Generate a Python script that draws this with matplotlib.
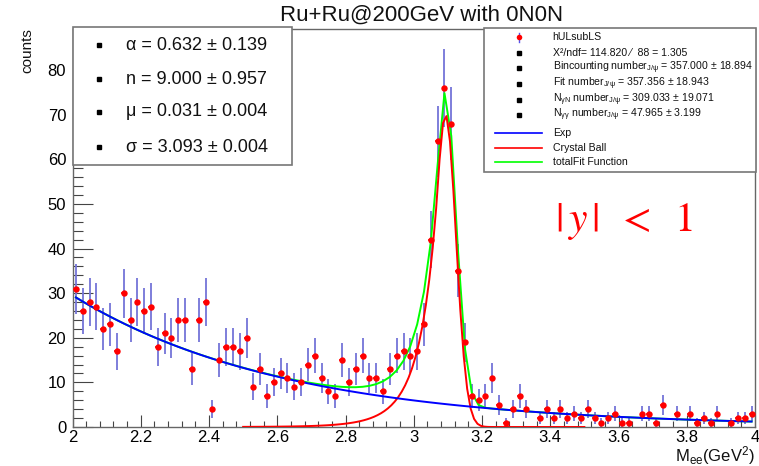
import numpy as np
import matplotlib
matplotlib.use("Agg")
import matplotlib.pyplot as plt
from matplotlib.patches import Rectangle

plt.rcParams["font.family"] = ["Liberation Sans", "DejaVu Sans"]
plt.rcParams["mathtext.fontset"] = "custom"
plt.rcParams["mathtext.rm"] = "Liberation Sans"
plt.rcParams["mathtext.it"] = "Liberation Sans:italic"
plt.rcParams["mathtext.bf"] = "Liberation Sans:bold"
plt.rcParams["mathtext.sf"] = "Liberation Sans"
plt.rcParams["mathtext.default"] = "rm"

# ---- histogram: unlike-sign minus like-sign counts, 100 bins on [2, 4] ----
mass_lo, mass_hi = 2.0, 4.0
counts = [31, 26, 28, 27, 22, 23, 17, 30, 24, 28,
          26, 27, 18, 21, 20, 24, 24, 13, 24, 28,
          4, 15, 18, 18, 17, 20, 9, 13, 7, 10,
          12, 11, 9, 10, 14, 16, 11, 8, 7, 15,
          10, 13, 16, 11, 11, 8, 13, 16, 17, 16,
          17, 23, 42, 64, 76, 68, 35, 19, 7, 6,
          7, 11, 5, 1, 4, 7, 4, 0, 2, 4,
          2, 4, 2, 3, 2, 4, 2, 1, 2, 3,
          1, 1, 0, 3, 3, 1, 5, 0, 3, 0,
          3, 1, 2, 1, 3, 0, 1, 2, 2, 3]

# ---- fit results ----
cb_alpha, cb_n, cb_mean, cb_sigma = 0.632, 9.000, 3.093, 0.031
cb_norm = 70.0
exp_norm, exp_slope = 29.5, 1.6
cb_range = (2.5, 3.5)
fit_range = (2.01, 3.99)

param_labels = ["α = 0.632 ± 0.139", "n = 9.000 ± 0.957",
                "μ = 0.031 ± 0.004", "σ = 3.093 ± 0.004"]
stat_labels = ["X²/ndf= 114.820 ⁄  88 = 1.305",
               r"Bincounting number$_{J/\psi}$ = 357.000 ± 18.894",
               r"Fit number$_{J/\psi}$ = 357.356 ± 18.943",
               r"N$_{\gamma N}$ number$_{J/\psi}$ = 309.033 ± 19.071",
               r"N$_{\gamma\gamma}$ number$_{J/\psi}$ = 47.965 ± 3.199"]
curve_labels = ["Exp", "Crystal Ball", "totalFit Function"]
curve_colors = ["#0000ff", "#ff0000", "#00ff00"]


def crystal_ball(x, norm, alpha, n, mu, sigma):
    t = (x - mu) / sigma
    a = (n / abs(alpha)) ** n * np.exp(-alpha ** 2 / 2)
    b = n / abs(alpha) - abs(alpha)
    with np.errstate(all="ignore"):
        tail = a * np.power(b - t, -n)
    return norm * np.where(t > -alpha, np.exp(-t ** 2 / 2), tail)


def expo(x, norm, slope):
    return norm * np.exp(-slope * (x - mass_lo))


W, H = 759, 466
fig = plt.figure(figsize=(W / 100, H / 100), dpi=100)
ax_l, ax_r, ax_t, ax_b = 72.5, 755, 28.5, 427
ax = fig.add_axes([ax_l / W, (H - ax_b) / H, (ax_r - ax_l) / W, (ax_b - ax_t) / H])

edges = np.linspace(mass_lo, mass_hi, len(counts) + 1)
centers = 0.5 * (edges[:-1] + edges[1:])
y = np.array(counts, dtype=float)
filled = y > 0
xc, yc = centers[filled], y[filled]
half_w = 0.5 * (edges[1] - edges[0])

ax.errorbar(xc, yc, yerr=np.sqrt(yc), fmt="none", ecolor="#7474d8",
            elinewidth=1.3, zorder=2)
ax.hlines(yc, xc - 0.8 * half_w, xc + 0.8 * half_w, color="#ff2020",
          lw=1.3, zorder=5)

x_full = np.linspace(*fit_range, 100)
x_cb = np.linspace(*cb_range, 100)
ax.plot(x_full, expo(x_full, exp_norm, exp_slope) +
        crystal_ball(x_full, cb_norm, cb_alpha, cb_n, cb_mean, cb_sigma),
        color=curve_colors[2], lw=1.4, zorder=3)
ax.plot(x_cb, crystal_ball(x_cb, cb_norm, cb_alpha, cb_n, cb_mean, cb_sigma),
        color=curve_colors[1], lw=1.4, zorder=3.2)
ax.plot(x_full, expo(x_full, exp_norm, exp_slope), color=curve_colors[0],
        lw=1.4, zorder=3.4)
ax.plot(xc, yc, "o", color="#ff0000", ms=4.6, mec="none", zorder=6)

ax.set_xlim(mass_lo, mass_hi)
ax.set_ylim(0, 89.3)
ax.set_xticks(np.arange(2.0, 4.01, 0.2))
ax.set_xticks(np.arange(2.0, 4.01, 0.04), minor=True)
ax.set_yticks(np.arange(0, 81, 10))
ax.set_yticks(np.arange(0, 89, 2), minor=True)
ax.set_xticklabels(["2", "2.2", "2.4", "2.6", "2.8", "3", "3.2", "3.4",
                    "3.6", "3.8", "4"])
ax.tick_params(axis="x", which="major", direction="in", length=8.6,
               width=0.8, color="#444444", labelsize=12, pad=2.5)
ax.tick_params(axis="x", which="minor", direction="in", length=4.3,
               width=0.8, color="#444444")
ax.tick_params(axis="y", which="major", direction="in", length=14.4,
               width=0.8, color="#444444", labelsize=12, pad=4.5)
ax.tick_params(axis="y", which="minor", direction="in", length=7.2,
               width=0.8, color="#444444")
for s in ax.spines.values():
    s.set_color("#666666")
    s.set_linewidth(1.0)

# ---- overlay in pixel coordinates for titles, boxes and labels ----
ov = fig.add_axes([0, 0, 1, 1], zorder=10)
ov.set_xlim(0, W)
ov.set_ylim(H, 0)
ov.axis("off")

ov.text(422, 15, "Ru+Ru@200GeV with 0N0N", ha="center", va="center",
        fontsize=16, color="#111111")
ov.text(27, 28, "counts", rotation=90, ha="center", va="top", fontsize=11,
        color="#111111")
ov.text(755, 456, r"M$_{ee}$(GeV$^{2}$)", ha="right", va="center",
        fontsize=12, color="#111111")
ov.text(624, 222, r"$|\,\mathit{y}\,|\;\;<\;\;1$", ha="center", va="center",
        fontsize=30, color="#ff0000", math_fontfamily="stix")

# parameter box
ov.add_patch(Rectangle((72.5, 27), 292 - 72.5, 165 - 27, fc="white",
                       ec="#777777", lw=1.2))
for row_y, lab in zip([45, 79.3, 112, 147], param_labels):
    ov.plot([99], [row_y], "s", color="black", ms=3.0)
    ov.text(126, row_y, lab, ha="left", va="center", fontsize=13,
            color="#111111")

# legend box
ov.add_patch(Rectangle((484, 27.7), 756 - 484, 171.7 - 27.7, fc="white",
                       ec="#777777", lw=1.2))
tx, mx = 552.7, 519
leg_fs = 7.6
ov.plot([mx, mx], [33.3, 41.7], color="#5555ee", lw=1.0)
ov.plot([mx], [37.3], "o", color="#ff0000", ms=4, mec="none")
ov.text(tx, 37.3, "hULsubLS", ha="left", va="center", fontsize=leg_fs,
        color="#111111")
for row_y, lab in zip([52.7, 68.3, 84.3, 100, 115], stat_labels):
    ov.plot([mx], [row_y], "s", color="black", ms=2.6)
    ov.text(tx, row_y, lab, ha="left", va="center", fontsize=leg_fs,
            color="#111111")
for row_y, lab, col in zip([132.7, 147.7, 162.3], curve_labels, curve_colors):
    ov.plot([495, 541.7], [row_y, row_y], color=col, lw=1.2)
    ov.text(tx, row_y, lab, ha="left", va="center", fontsize=leg_fs,
            color="#111111")

fig.savefig("out.png", dpi=100)
